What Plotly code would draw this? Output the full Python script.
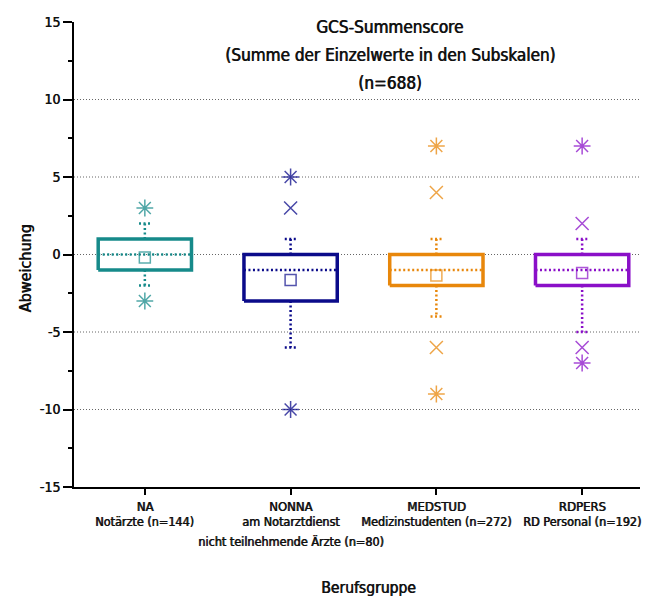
import plotly.graph_objects as go

# ---- data ----
groups = ["NA", "NONNA", "MEDSTUD", "RDPERS"]
group_desc = [
    ["Notärzte (n=144)"],
    ["am Notarztdienst", "nicht teilnehmende Ärzte (n=80)"],
    ["Medizinstudenten (n=272)"],
    ["RD Personal (n=192)"],
]
title_lines = ["GCS-Summenscore", "(Summe der Einzelwerte in den Subskalen)", "(n=688)"]
q1 = [-1, -3, -2, -2]
median = [0, -1, -1, -1]
q3 = [1, 0, 0, 0]
whisker_low = [-2, -6, -4, -5]
whisker_high = [2, 1, 1, 1]
means = [-0.2, -1.65, -1.35, -1.2]
outliers_mild = [[], [3], [4, -6], [2, -6]]
outliers_extreme = [[3, -3], [5, -10], [7, -9], [7, -7]]
colors = ["#168a8a", "#0b0b8a", "#e8870b", "#8a0fc8"]

y_ticks = [-15, -10, -5, 0, 5, 10, 15]
y_tick_text = ["-15", "-10", "-5", "0", "5", "10", "15"]
grid_vals = [-10, -5, 0, 5, 10]

FONT = "DejaVu Sans Condensed, sans-serif"
SH = "0.7px 0px 0px #111111"   # slight emboldening
HW = 0.32   # box half width
CW = 0.04   # cap half width
DOT = "2px,2.5px"

fig = go.Figure()

for g in grid_vals:
    fig.add_hline(y=g, line=dict(color="#666666", width=1, dash="1px,2px"), layer="below")

for i, grp in enumerate(groups):
    c = colors[i]
    # whiskers (dotted)
    for a, b in [(q3[i], whisker_high[i]), (q1[i], whisker_low[i])]:
        fig.add_trace(go.Scatter(x=[i, i], y=[a, b], mode="lines",
                                 line=dict(color=c, width=2.5, dash=DOT),
                                 showlegend=False, hoverinfo="skip"))
    for w in [whisker_high[i], whisker_low[i]]:
        fig.add_trace(go.Scatter(x=[i - CW, i + CW], y=[w, w], mode="lines",
                                 line=dict(color=c, width=2.5, dash=DOT),
                                 showlegend=False, hoverinfo="skip"))
    # box
    fig.add_trace(go.Scatter(
        x=[i - HW, i + HW, i + HW, i - HW, i - HW],
        y=[q1[i], q1[i], q3[i], q3[i], q1[i]],
        mode="lines", line=dict(color=c, width=3.5),
        showlegend=False, hoverinfo="skip"))
    # median (dotted)
    fig.add_trace(go.Scatter(x=[i - HW, i + HW], y=[median[i], median[i]], mode="lines",
                             line=dict(color=c, width=2.5, dash=DOT),
                             showlegend=False, hoverinfo="skip"))
    # mean
    fig.add_trace(go.Scatter(x=[i], y=[means[i]], mode="markers",
                             marker=dict(symbol="square-open", size=11, color=c,
                                         opacity=0.7, line=dict(width=1.5)),
                             showlegend=False))
    # outliers
    if outliers_mild[i]:
        fig.add_trace(go.Scatter(x=[i] * len(outliers_mild[i]), y=outliers_mild[i],
                                 mode="markers",
                                 marker=dict(symbol="x-thin-open", size=13, color=c,
                                             opacity=0.75, line=dict(width=1.5, color=c)),
                                 showlegend=False))
    fig.add_trace(go.Scatter(x=[i] * len(outliers_extreme[i]), y=outliers_extreme[i],
                             mode="markers",
                             marker=dict(symbol="asterisk-open", size=14, color=c,
                                         opacity=0.75, line=dict(width=1.5, color=c)),
                             showlegend=False))

annotations = []
for k, line in enumerate(title_lines):
    annotations.append(dict(text=line, xref="paper", yref="paper", x=0.558, y=1.0,
                            yshift=-5 - 28 * k, xanchor="center", yanchor="middle",
                            showarrow=False,
                            font=dict(size=17, family=FONT, shadow=SH)))
annotations += [
    dict(text="Berufsgruppe", xref="paper", yref="paper", x=0.52, y=0,
         yshift=-101, xanchor="center", yanchor="middle", showarrow=False,
         font=dict(size=15.5, family=FONT, shadow=SH)),
    dict(text="Abweichung", xref="paper", yref="paper", x=0, xshift=-49,
         y=0.47, textangle=-90, xanchor="center", yanchor="middle",
         showarrow=False, font=dict(size=16, family=FONT, shadow=SH)),
]
for i, lines in enumerate(group_desc):
    for k, line in enumerate(lines):
        annotations.append(dict(text=line, xref="x", yref="paper", x=i, y=0,
                                yshift=-34 - 20 * k, xanchor="center", yanchor="middle",
                                showarrow=False,
                                font=dict(size=12.5, family=FONT, shadow=SH)))

fig.update_layout(
    width=645, height=598,
    margin=dict(l=74, r=5, t=22, b=111),
    plot_bgcolor="white", paper_bgcolor="white",
    font=dict(family=FONT, size=13, color="#111111"),
    xaxis=dict(range=[-0.486, 3.397], tickvals=list(range(len(groups))),
               ticktext=groups, tickangle=0, showgrid=False, zeroline=False,
               showline=True, linecolor="black", linewidth=2,
               ticks="outside", ticklen=6, tickwidth=2, tickcolor="black",
               ticklabeloverflow="allow",
               tickfont=dict(size=13, shadow=SH)),
    yaxis=dict(range=[-15, 15], tickvals=y_ticks, ticktext=y_tick_text,
               showgrid=False, zeroline=False,
               showline=True, linecolor="black", linewidth=2,
               ticks="outside", ticklen=9, tickwidth=2, tickcolor="black",
               tickfont=dict(size=14, shadow=SH),
               minor=dict(dtick=2.5, ticks="outside", ticklen=4, tickwidth=2,
                          tickcolor="black", showgrid=False)),
    annotations=annotations,
)

fig.write_html("out.html", config={"displayModeBar": False},
               post_script="document.body.style.margin='0';")
